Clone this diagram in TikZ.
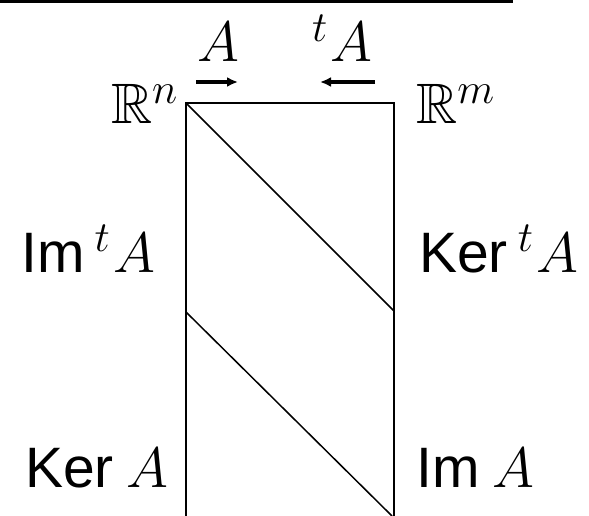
\RequirePackage{fix-cm}
\documentclass[tikz,border=0pt]{standalone}
\usepackage[no-math]{fontspec}
\newfontfamily\opfont{Liberation Sans}
\usepackage{amssymb}
\usetikzlibrary{arrows.meta}
\DeclareMathSizes{57}{57}{43}{32}
\newcommand{\tpA}{${}^{t}\mkern1mu A$}
\begin{document}
\begin{tikzpicture}[x=1pt,y=-1pt,
  lbl/.style={inner sep=0pt,font=\fontsize{57}{60}\selectfont},
  edge/.style={line width=1.8pt},
  maparrow/.style={line width=3.2pt,-{Latex[length=11pt,width=10pt]}}]
\useasboundingbox (0,0) rectangle (589,516);
% top rule
\coordinate (r1) at (0,1.3);
\coordinate (r2) at (513,1.3);
\draw[line width=2.6pt] (r1) -- (r2);
% box
\coordinate (tl) at (186,103);
\coordinate (tr) at (394,103);
\coordinate (bl) at (186,516);
\coordinate (br) at (394,516);
\coordinate (ml) at (186,312);
\coordinate (mr) at (394,311);
\coordinate (be) at (392,516);
\draw[edge] (bl) -- (tl) -- (tr) -- (br);
\draw[line width=1.5pt] (tl) -- (mr);
\draw[line width=1.5pt] (ml) -- (be);
% arrows
\coordinate (a1) at (196,82);
\coordinate (a2) at (238,82);
\coordinate (b1) at (375,82);
\coordinate (b2) at (320,82);
\draw[maparrow] (a1) -- (a2);
\draw[maparrow] (b1) -- (b2);
% labels
\node[lbl,anchor=base] (A) at (218,62) {$A$};
\node[lbl,anchor=base east] (tA) at (373,62) {\tpA};
\node[lbl,anchor=base east] (Rn) at (178,124) {$\mathbb{R}^n$};
\node[lbl,anchor=base west] (Rm) at (416,124) {$\mathbb{R}^m$};
\node[lbl,anchor=base west] (ImtA) at (21,272) {{\opfont Im}\hspace{10pt}\tpA};
\node[lbl,anchor=base west] (KertA) at (419,272) {{\opfont Ker}\hspace{10pt}\tpA};
\node[lbl,anchor=base west] (KerA) at (25,487) {{\opfont Ker}\hspace{13pt}$A$};
\node[lbl,anchor=base west] (ImA) at (416,487) {{\opfont Im}\hspace{13pt}$A$};
\end{tikzpicture}
\end{document}
